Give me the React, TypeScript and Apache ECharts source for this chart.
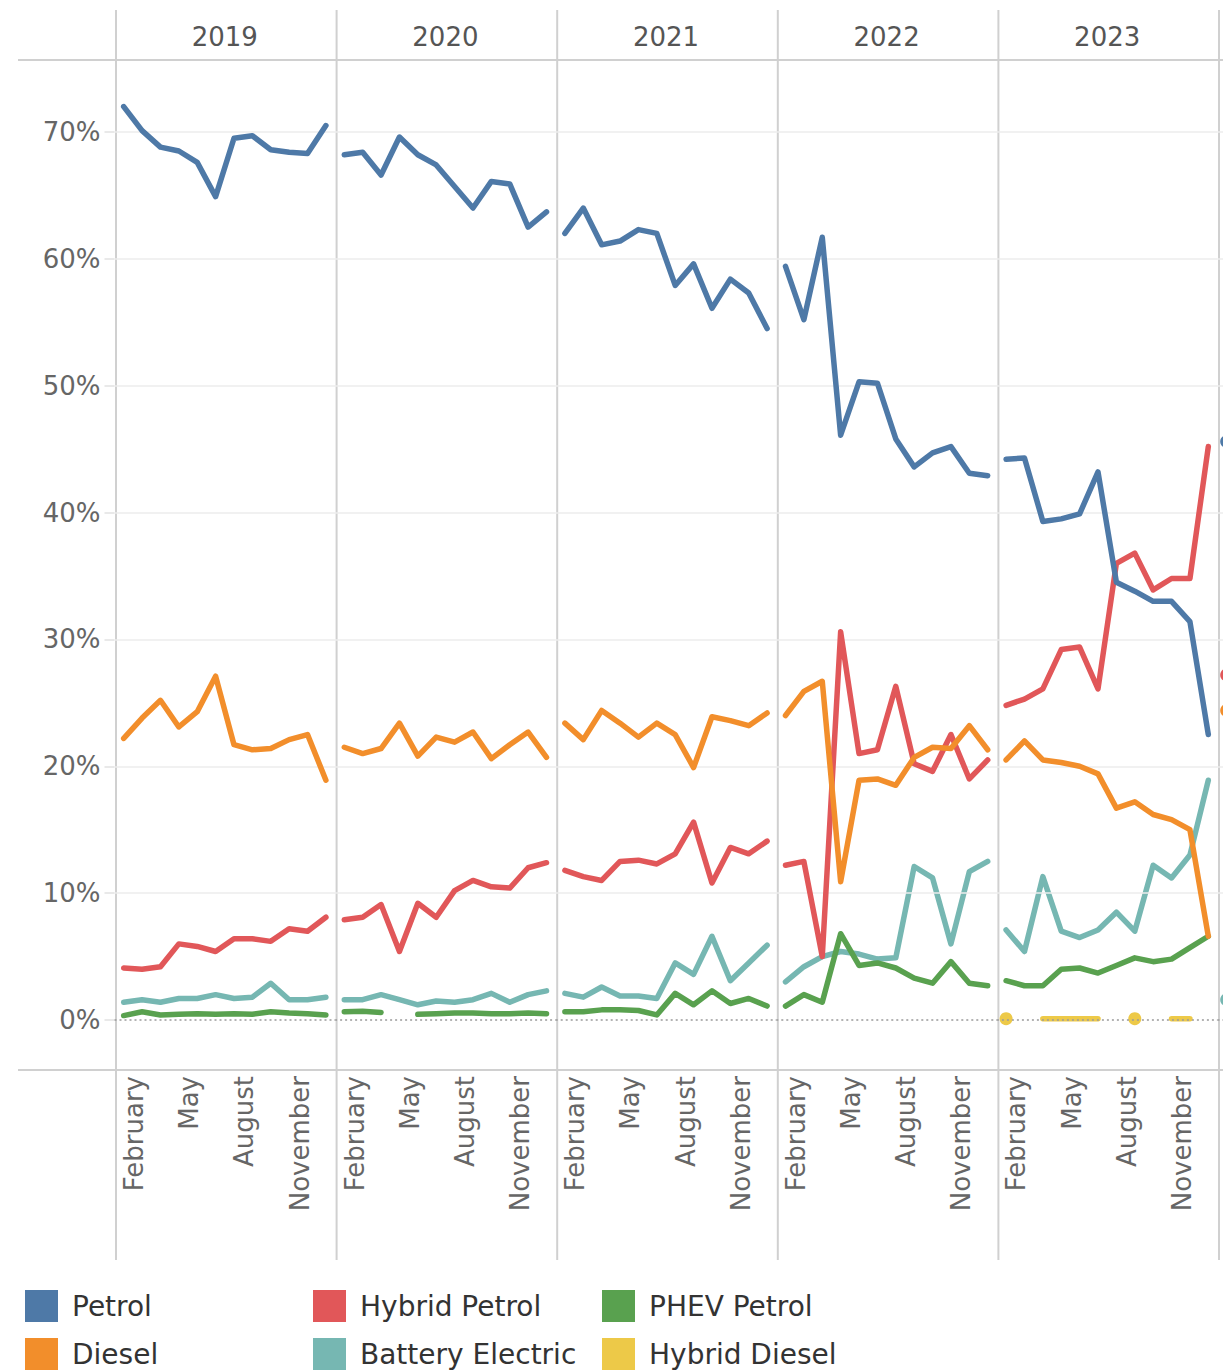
import React, { useEffect, useRef } from "react";
import * as echarts from "echarts";

// ---------- data ----------
const years = ["2019", "2020", "2021", "2022", "2023", "2024"];
const months = [
  "January", "February", "March", "April", "May", "June",
  "July", "August", "September", "October", "November", "December",
];
const yTicks = [0, 10, 20, 30, 40, 50, 60, 70];
const _ = null;

const petrol = [
  [72.0, 70.1, 68.8, 68.5, 67.6, 64.9, 69.5, 69.7, 68.6, 68.4, 68.3, 70.5],
  [68.2, 68.4, 66.6, 69.6, 68.2, 67.4, 65.7, 64.0, 66.1, 65.9, 62.5, 63.7],
  [62.0, 64.0, 61.1, 61.4, 62.3, 62.0, 57.9, 59.6, 56.1, 58.4, 57.3, 54.5],
  [59.4, 55.2, 61.7, 46.1, 50.3, 50.2, 45.8, 43.6, 44.7, 45.2, 43.1, 42.9],
  [44.2, 44.3, 39.3, 39.5, 39.9, 43.2, 34.5, 33.8, 33.0, 33.0, 31.4, 22.5],
  [45.6, _, _, _, _, _, _, _, _, _, _, _],
];
const diesel = [
  [22.2, 23.8, 25.2, 23.1, 24.3, 27.1, 21.7, 21.3, 21.4, 22.1, 22.5, 18.9],
  [21.5, 21.0, 21.4, 23.4, 20.8, 22.3, 21.9, 22.7, 20.6, 21.7, 22.7, 20.7],
  [23.4, 22.1, 24.4, 23.4, 22.3, 23.4, 22.5, 19.9, 23.9, 23.6, 23.2, 24.2],
  [24.0, 25.9, 26.7, 10.9, 18.9, 19.0, 18.5, 20.7, 21.5, 21.4, 23.2, 21.3],
  [20.5, 22.0, 20.5, 20.3, 20.0, 19.4, 16.7, 17.2, 16.2, 15.8, 15.0, 6.6],
  [24.4, _, _, _, _, _, _, _, _, _, _, _],
];
const hybridPetrol = [
  [4.1, 4.0, 4.2, 6.0, 5.8, 5.4, 6.4, 6.4, 6.2, 7.2, 7.0, 8.1],
  [7.9, 8.1, 9.1, 5.4, 9.2, 8.1, 10.2, 11.0, 10.5, 10.4, 12.0, 12.4],
  [11.8, 11.3, 11.0, 12.5, 12.6, 12.3, 13.1, 15.6, 10.8, 13.6, 13.1, 14.1],
  [12.2, 12.5, 5.0, 30.6, 21.0, 21.3, 26.3, 20.2, 19.6, 22.5, 19.0, 20.5],
  [24.8, 25.3, 26.1, 29.2, 29.4, 26.1, 36.0, 36.8, 33.9, 34.8, 34.8, 45.2],
  [27.2, _, _, _, _, _, _, _, _, _, _, _],
];
const batteryElectric = [
  [1.4, 1.6, 1.4, 1.7, 1.7, 2.0, 1.7, 1.8, 2.9, 1.6, 1.6, 1.8],
  [1.6, 1.6, 2.0, 1.6, 1.2, 1.5, 1.4, 1.6, 2.1, 1.4, 2.0, 2.3],
  [2.1, 1.8, 2.6, 1.9, 1.9, 1.7, 4.5, 3.6, 6.6, 3.1, 4.5, 5.9],
  [3.0, 4.2, 5.0, 5.4, 5.2, 4.8, 4.9, 12.1, 11.2, 6.0, 11.7, 12.5],
  [7.1, 5.4, 11.3, 7.0, 6.5, 7.1, 8.5, 7.0, 12.2, 11.2, 13.0, 18.9],
  [1.6, _, _, _, _, _, _, _, _, _, _, _],
];
const phevPetrol = [
  [0.35, 0.65, 0.4, 0.45, 0.5, 0.45, 0.5, 0.45, 0.65, 0.55, 0.5, 0.4],
  [0.65, 0.7, 0.6, _, 0.45, 0.5, 0.55, 0.55, 0.5, 0.5, 0.55, 0.5],
  [0.65, 0.65, 0.8, 0.8, 0.75, 0.4, 2.1, 1.2, 2.3, 1.3, 1.7, 1.1],
  [1.1, 2.0, 1.4, 6.8, 4.3, 4.5, 4.1, 3.3, 2.9, 4.6, 2.9, 2.7],
  [3.1, 2.7, 2.7, 4.0, 4.1, 3.7, 4.3, 4.9, 4.6, 4.8, 5.7, 6.6],
  [_, _, _, _, _, _, _, _, _, _, _, _],
];
const hybridDiesel = [
  [_, _, _, _, _, _, _, _, _, _, _, _],
  [_, _, _, _, _, _, _, _, _, _, _, _],
  [_, _, _, _, _, _, _, _, _, _, _, _],
  [_, _, _, _, _, _, _, _, _, _, _, _],
  [0.1, _, 0.1, 0.1, 0.1, 0.1, _, 0.1, _, 0.1, 0.1, _],
  [_, _, _, _, _, _, _, _, _, _, _, _],
];

const legendColumns = [
  ["Petrol", "Diesel"],
  ["Hybrid Petrol", "Battery Electric"],
  ["PHEV Petrol", "Hybrid Diesel"],
];

// draw order: bottom to top
const seriesDefs = [
  { name: "Hybrid Diesel", color: "#EDC948", data: hybridDiesel },
  { name: "Battery Electric", color: "#76B7B2", data: batteryElectric },
  { name: "PHEV Petrol", color: "#59A14F", data: phevPetrol },
  { name: "Hybrid Petrol", color: "#E15759", data: hybridPetrol },
  { name: "Diesel", color: "#F28E2B", data: diesel },
  { name: "Petrol", color: "#4E79A7", data: petrol },
];

// ---------- layout ----------
const W = 1223;
const H = 1370;
const PANEL_LEFT = 116;
const PANEL_W = 220.6;
const GRID_TOP = 60;
const GRID_BOTTOM = 1070;
const Y_MIN = -3.94;
const Y_MAX = 75.67;
const FONT = "'DejaVu Sans', sans-serif";
const FRAME = "#d0d0d0";

function buildOption() {
  const n = years.length;
  const grid: any[] = [];
  const xAxis: any[] = [];
  const yAxis: any[] = [];
  const series: any[] = [];

  for (let i = 0; i < n; i++) {
    const visible = i < 5;
    grid.push({
      left: PANEL_LEFT + PANEL_W * i - 1.5,
      top: GRID_TOP,
      width: PANEL_W,
      height: GRID_BOTTOM - GRID_TOP,
      containLabel: false,
      outerBoundsMode: "none",
    });
    xAxis.push({
      type: "category",
      gridIndex: i,
      position: "bottom",
      data: months,
      boundaryGap: true,
      axisLine: { show: false },
      axisTick: { show: false },
      splitLine: { show: false },
      axisLabel: {
        show: visible,
        interval: (idx: number) => idx % 3 === 1,
        rotate: 90,
        margin: 6,
        formatter: (v: string) => `{m|${v}}`,
        rich: {
          m: {
            fontSize: 26,
            color: "#666",
            fontFamily: FONT,
            padding: [0, 0, 16, 0],
          },
        },
      },
    });
    xAxis.push({
      type: "category",
      gridIndex: i,
      position: "top",
      data: [years[i]],
      boundaryGap: true,
      axisLine: { show: false },
      axisTick: { show: false },
      splitLine: { show: false },
      axisLabel: {
        show: visible,
        margin: 10,
        fontSize: 26,
        color: "#555",
        fontFamily: FONT,
      },
    });
    yAxis.push({
      type: "value",
      gridIndex: i,
      min: Y_MIN,
      max: Y_MAX,
      axisLine: { show: false },
      splitLine: { show: false },
      axisTick: {
        show: i === 0,
        customValues: yTicks,
        length: 10,
        lineStyle: { color: "#e2e2e2", width: 1.5 },
      },
      axisLabel: {
        show: i === 0,
        customValues: yTicks,
        formatter: "{value}%",
        margin: 14,
        fontSize: 26,
        color: "#666",
        fontFamily: FONT,
      },
    });

    // gridlines
    series.push({
      type: "line",
      xAxisIndex: 2 * i,
      yAxisIndex: i,
      data: [],
      silent: true,
      z: 1,
      markLine: {
        silent: true,
        symbol: "none",
        label: { show: false },
        emphasis: { disabled: true },
        data: yTicks.map((v) => ({
          yAxis: v,
          lineStyle:
            v === 0
              ? { color: "#9a9a9a", type: [2, 3], width: 1.5 }
              : { color: "#ededed", type: "solid", width: 1.5 },
        })),
      },
    });

    seriesDefs.forEach((def, k) => {
      const vals = def.data[i];
      const items = vals.map((v, j) => {
        const prev = j > 0 ? vals[j - 1] : null;
        const next = j < vals.length - 1 ? vals[j + 1] : null;
        if (v != null && prev == null && next == null) {
          return { value: v, symbolSize: 13 };
        }
        return v;
      });
      series.push({
        type: "line",
        name: def.name,
        xAxisIndex: 2 * i,
        yAxisIndex: i,
        data: items,
        connectNulls: false,
        symbol: "circle",
        symbolSize: 0,
        showSymbol: true,
        showAllSymbol: true,
        silent: true,
        clip: false,
        z: 3 + k,
        itemStyle: { color: def.color },
        lineStyle: { color: def.color, width: 5.5, cap: "round", join: "round" },
        emphasis: { disabled: true },
      });
    });
  }

  const graphic: any[] = [];
  for (let i = 0; i < n; i++) {
    const x = PANEL_LEFT + PANEL_W * i;
    graphic.push({
      type: "line",
      silent: true,
      z: 0,
      shape: { x1: x, y1: 10, x2: x, y2: 1260 },
      style: { stroke: FRAME, lineWidth: 2 },
    });
  }
  [GRID_TOP, GRID_BOTTOM].forEach((y) =>
    graphic.push({
      type: "line",
      silent: true,
      z: 0,
      shape: { x1: 18, y1: y, x2: W, y2: y },
      style: { stroke: FRAME, lineWidth: 2 },
    })
  );

  const legendLefts = [25, 313, 602];
  const legend = legendColumns.map((names, c) => ({
    data: names,
    left: legendLefts[c],
    top: 1290,
    orient: "vertical",
    icon: "rect",
    itemWidth: 33,
    itemHeight: 32,
    itemGap: 16,
    padding: 0,
    selectedMode: false,
    textStyle: {
      fontSize: 28,
      color: "#333",
      fontFamily: FONT,
      padding: [0, 0, 0, 9],
    },
  }));

  return {
    animation: false,
    backgroundColor: "#ffffff",
    textStyle: { fontFamily: FONT },
    grid,
    xAxis,
    yAxis,
    series,
    legend,
    graphic,
  };
}

export default function App() {
  const ref = useRef<HTMLDivElement>(null);
  useEffect(() => {
    if (!ref.current) return;
    const chart = echarts.init(ref.current, null, { renderer: "svg" });
    chart.setOption(buildOption() as any);
    return () => chart.dispose();
  }, []);
  return (
    <div
      style={{
        position: "absolute",
        left: 0,
        top: 0,
        width: W,
        height: H,
        overflow: "hidden",
        background: "#fff",
      }}
    >
      <div ref={ref} style={{ width: W, height: H }} />
    </div>
  );
}
